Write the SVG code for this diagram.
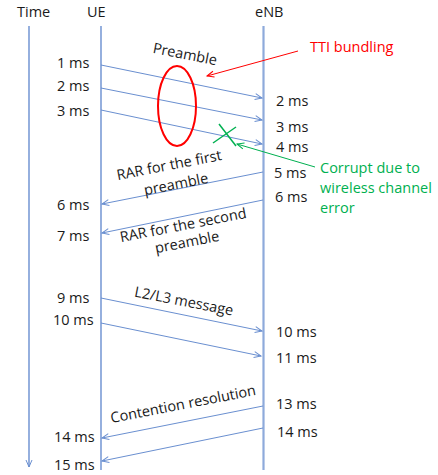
<svg xmlns="http://www.w3.org/2000/svg" width="438" height="475" viewBox="0 0 438 475">
  <style>
    text { font-family: "Open Sans", "Liberation Sans", sans-serif; font-size: 14.5px; fill: #1a1a1a; }
    .life { stroke: #4F7BC8; stroke-width: 1.2; fill: none; }
    .enb { stroke: #8EAADB; stroke-width: 2.2; fill: none; }
    .msg { stroke: #6A8FD0; stroke-width: 1; fill: none; }
    .red { fill: #FF0000; }
    .green { fill: #00B050; }
  </style>
  <defs>
    <marker id="openArrow" markerUnits="userSpaceOnUse" markerWidth="10" markerHeight="10" refX="8" refY="4" orient="auto">
      <path d="M1,1 L8,4 L1,7" fill="none" stroke="#6A8FD0" stroke-width="1"/>
    </marker>
    <marker id="redArrow" markerUnits="userSpaceOnUse" markerWidth="10" markerHeight="10" refX="8" refY="4" orient="auto">
      <path d="M1,1 L8,4 L1,7" fill="none" stroke="#FF0000" stroke-width="1"/>
    </marker>
    <marker id="greenArrow" markerUnits="userSpaceOnUse" markerWidth="10" markerHeight="10" refX="8" refY="4" orient="auto">
      <path d="M1,1 L8,4 L1,7" fill="none" stroke="#00B050" stroke-width="1"/>
    </marker>
  </defs>

  <!-- lifelines -->
  <g id="time">
    <text x="17" y="17">Time</text>
    <line class="life" x1="29" y1="26" x2="29" y2="467" marker-end="url(#openArrow)"/>
  </g>
  <g id="ue">
    <text x="87" y="17">UE</text>
    <line class="life" x1="101" y1="26" x2="101" y2="470"/>
  </g>
  <g id="enb">
    <text x="255" y="17">eNB</text>
    <line class="enb" x1="263.5" y1="26" x2="263.5" y2="470"/>
  </g>

  <!-- messages between UE and eNB -->
  <g id="connectors">
    <line class="msg" x1="101" y1="65" x2="262" y2="98" marker-end="url(#openArrow)"/>
    <line class="msg" x1="101" y1="88" x2="262" y2="120" marker-end="url(#openArrow)"/>
    <line class="msg" x1="101" y1="110" x2="262" y2="144" marker-end="url(#openArrow)"/>
    <line class="msg" x1="263" y1="172" x2="102" y2="204" marker-end="url(#openArrow)"/>
    <line class="msg" x1="263" y1="200" x2="102" y2="233" marker-end="url(#openArrow)"/>
    <line class="msg" x1="101" y1="298" x2="262" y2="331" marker-end="url(#openArrow)"/>
    <line class="msg" x1="101" y1="323" x2="261" y2="356" marker-end="url(#openArrow)"/>
    <line class="msg" x1="263" y1="406" x2="102" y2="438" marker-end="url(#openArrow)"/>
    <line class="msg" x1="263" y1="428" x2="102" y2="461" marker-end="url(#openArrow)"/>
  </g>

  <!-- message labels -->
  <g id="preamble-label">
    <text transform="translate(184,59) rotate(11)" text-anchor="middle">Preamble</text>
  </g>
  <g id="rar1-label">
    <text transform="translate(170,170) rotate(-11)" text-anchor="middle">RAR for the first</text>
    <text transform="translate(177,189) rotate(-11)" text-anchor="middle">preamble</text>
  </g>
  <g id="rar2-label">
    <text transform="translate(184,230) rotate(-11)" text-anchor="middle">RAR for the second</text>
    <text transform="translate(188,247) rotate(-11)" text-anchor="middle">preamble</text>
  </g>
  <g id="msg3-label">
    <text transform="translate(183,306) rotate(11)" text-anchor="middle">L2/L3 message</text>
  </g>
  <g id="contention-label">
    <text transform="translate(184,409) rotate(-11)" text-anchor="middle">Contention resolution</text>
  </g>

  <!-- UE side timestamps -->
  <g id="ue-times">
    <text x="57" y="68">1 ms</text>
    <text x="57" y="91">2 ms</text>
    <text x="57" y="116">3 ms</text>
    <text x="57" y="210">6 ms</text>
    <text x="57" y="241">7 ms</text>
    <text x="57" y="303">9 ms</text>
    <text x="53" y="325">10 ms</text>
    <text x="54" y="442">14 ms</text>
    <text x="54" y="470">15 ms</text>
  </g>

  <!-- eNB side timestamps -->
  <g id="enb-times">
    <text x="276" y="106">2 ms</text>
    <text x="276" y="132">3 ms</text>
    <text x="276" y="152">4 ms</text>
    <text x="274" y="178">5 ms</text>
    <text x="275" y="202">6 ms</text>
    <text x="276" y="337">10 ms</text>
    <text x="276" y="363">11 ms</text>
    <text x="276" y="409">13 ms</text>
    <text x="277" y="437">14 ms</text>
  </g>

  <!-- TTI bundling annotation -->
  <g id="tti-bundling">
    <ellipse cx="177" cy="106" rx="19" ry="40" fill="none" stroke="#FF0000" stroke-width="2"/>
    <line x1="298" y1="51" x2="207" y2="76" stroke="#FF0000" stroke-width="1" marker-end="url(#redArrow)"/>
    <text class="red" x="310" y="52">TTI bundling</text>
  </g>

  <!-- corrupted preamble annotation -->
  <g id="corrupt">
    <line x1="219" y1="124" x2="236" y2="146" stroke="#00B050" stroke-width="1.5"/>
    <line x1="213" y1="143" x2="236" y2="127" stroke="#00B050" stroke-width="1.5"/>
    <line x1="315" y1="167" x2="237" y2="144" stroke="#00B050" stroke-width="1" marker-end="url(#greenArrow)"/>
    <text class="green" x="320" y="173">Corrupt due to</text>
    <text class="green" x="320" y="193">wireless channel</text>
    <text class="green" x="320" y="213">error</text>
  </g>
</svg>
